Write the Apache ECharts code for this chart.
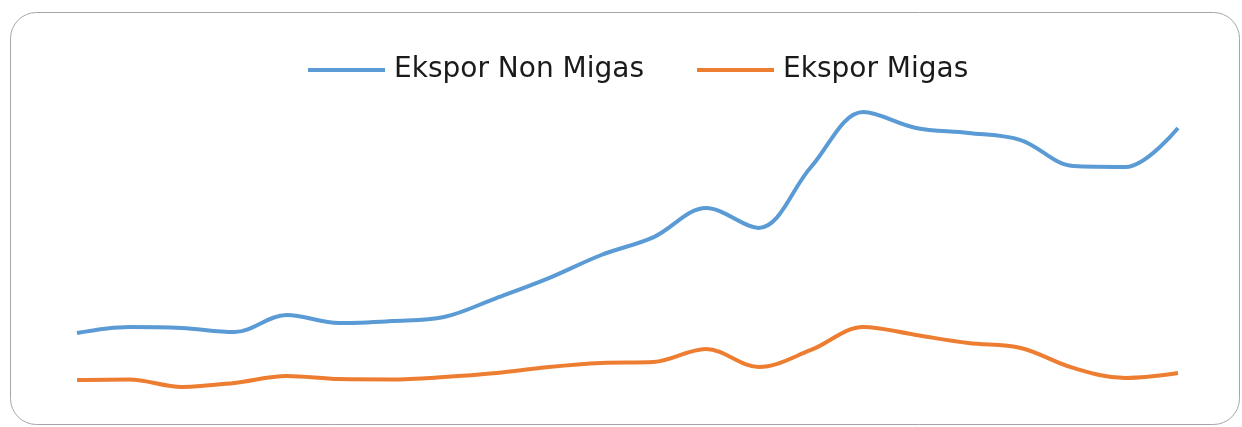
<!DOCTYPE html>
<html><head><meta charset="utf-8">
<script src="https://cdn.jsdelivr.net/npm/echarts@6/dist/echarts.min.js"></script>
<style>html,body{margin:0;padding:0;background:#fff}#c{width:1242px;height:427px}</style>
</head><body><div id="c"></div>
<script>
var categories = ['1996','1997','1998','1999','2000','2001','2002','2003','2004','2005','2006','2007','2008','2009','2010','2011','2012','2013','2014','2015','2016','2017'];
var nonMigas = [42.1,45.4,44.8,42.6,51.9,47.5,48.6,50.8,61.2,72.1,84.7,94.5,110.4,99.5,132.8,162.8,154.1,151.4,147.5,133.3,132.8,154.1];
var migas = [16.4,16.7,12.6,14.8,18.6,16.9,16.7,18.0,20.2,23.5,25.7,26.2,33.3,23.5,32.8,45.4,41.0,36.6,33.9,23.0,17.5,20.2];
var seriesNames = ['Ekspor Non Migas','Ekspor Migas'];
var colors = ['#5B9BD5','#ED7D31'];

var legendText = {fontFamily: 'DejaVu Sans', fontSize: 28, color: '#1a1a1a', padding: [0,0,0,4]};
var chart = echarts.init(document.getElementById('c'));
chart.setOption({
  animation: false,
  graphic: [{
    type: 'rect', z: -1,
    shape: {x: 10.5, y: 12.5, width: 1229, height: 412, r: 26},
    style: {fill: '#fff', stroke: '#a6a6a6', lineWidth: 1}
  }],
  legend: [
    {left: 303, top: 51, itemWidth: 77, itemHeight: 4, icon: 'rect', data: [seriesNames[0]], textStyle: legendText},
    {left: 692, top: 51, itemWidth: 77, itemHeight: 4, icon: 'rect', data: [seriesNames[1]], textStyle: legendText}
  ],
  grid: {left: 77, right: 64, top: 44, bottom: 17},
  xAxis: {type: 'category', data: categories, boundaryGap: false, show: false},
  yAxis: {type: 'value', min: 0, max: 200, show: false},
  series: [
    {name: seriesNames[0], type: 'line', data: nonMigas, smooth: 0.35, showSymbol: false, symbol: 'none', lineStyle: {width: 4, color: colors[0]}, itemStyle: {color: colors[0]}},
    {name: seriesNames[1], type: 'line', data: migas, smooth: 0.35, showSymbol: false, symbol: 'none', lineStyle: {width: 4, color: colors[1]}, itemStyle: {color: colors[1]}}
  ]
});
</script></body></html>
